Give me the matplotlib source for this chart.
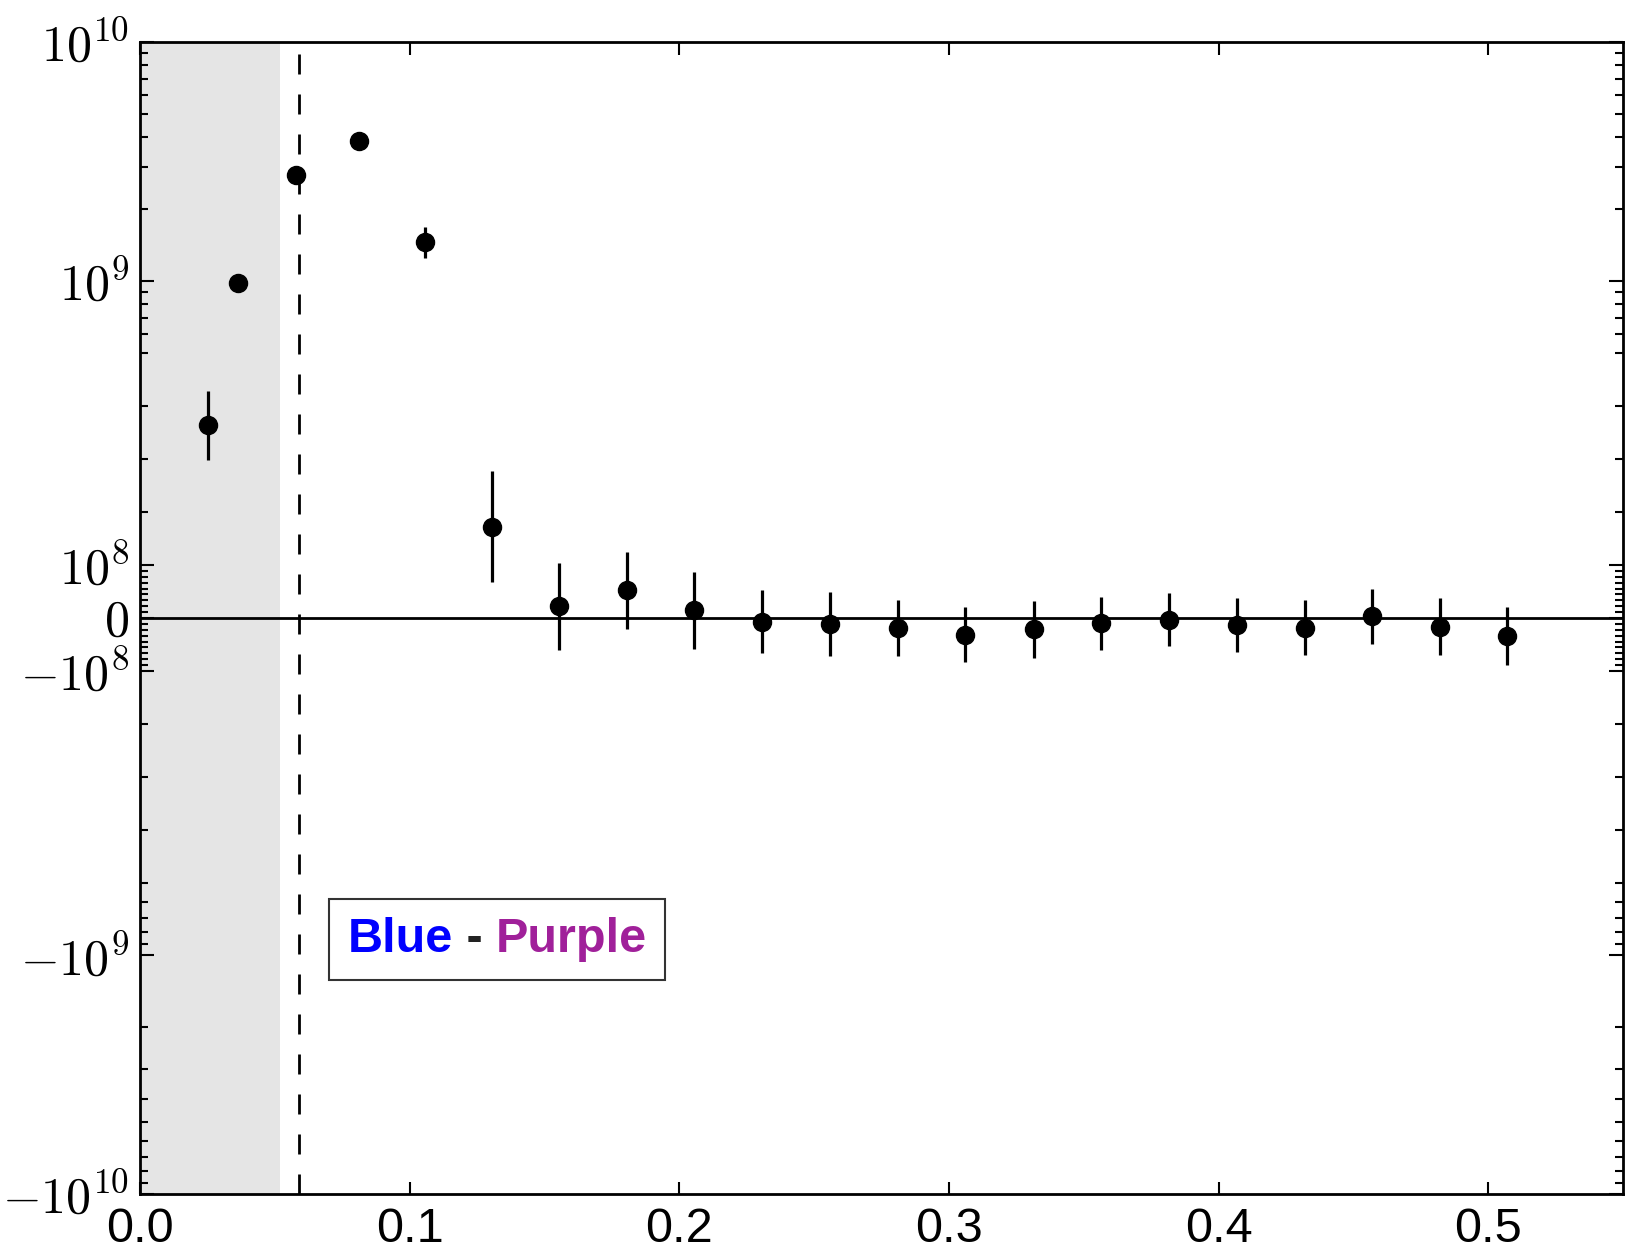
import numpy as np
import matplotlib
matplotlib.use('Agg')
import matplotlib.pyplot as plt
from matplotlib.ticker import FixedLocator, FixedFormatter
from matplotlib.offsetbox import TextArea, HPacker, AnchoredOffsetbox

plt.rcParams['font.family'] = ['Liberation Sans', 'DejaVu Sans']
plt.rcParams['mathtext.fontset'] = 'cm'

# data
x_vals = [0.0251, 0.0363, 0.0577, 0.0814, 0.1058, 0.1306, 0.1556, 0.1805, 0.2055,
          0.2307, 0.2560, 0.2811, 0.3061, 0.3315, 0.3566, 0.3818, 0.4069, 0.4320,
          0.4570, 0.4820, 0.5071]
y_vals = [3.63e8, 9.78e8, 2.76e9, 3.83e9, 1.46e9, 1.72e8, 2.2e7, 5.2e7, 1.45e7,
          -6.8e6, -1.19e7, -1.89e7, -3.13e7, -2.13e7, -1.0e7, -3.0e6, -1.3e7, -1.85e7,
          3.0e6, -1.66e7, -3.4e7]
y_err = [6.5e7, 4.0e7, 8.0e7, 1.0e8, 2.15e8, 1.05e8, 8.2e7, 7.3e7, 7.2e7,
         6.0e7, 6.0e7, 5.2e7, 5.2e7, 5.4e7, 5.0e7, 5.0e7, 5.1e7, 5.2e7,
         5.2e7, 5.4e7, 5.5e7]

shade_edge = 0.052
dash_x = 0.059

ytick_vals = [-1e10, -1e9, -1e8, 0, 1e8, 1e9, 1e10]
ytick_labels = [r'$-10^{10}$', r'$-10^{9}$', r'$-10^{8}$', r'$0$',
                r'$10^{8}$', r'$10^{9}$', r'$10^{10}$']
xtick_vals = [0.0, 0.1, 0.2, 0.3, 0.4, 0.5]
xtick_labels = ['0.0', '0.1', '0.2', '0.3', '0.4', '0.5']

fig = plt.figure(figsize=(16.29, 12.52), dpi=100)
ax = fig.add_axes([0.0859, 0.0463, 0.9104, 0.9202])

ax.axvspan(0, shade_edge, color='#e5e5e5', lw=0, zorder=0)
ax.axvline(dash_x, color='k', lw=2, linestyle=(0, (7.2, 7.2)), zorder=1)
ax.axhline(0, color='k', lw=2, zorder=1)
ax.errorbar(x_vals, y_vals, yerr=y_err, fmt='o', color='k', ms=13,
            elinewidth=2.3, capsize=0, zorder=3)

ax.set_yscale('symlog', linthresh=5e8, linscale=1)
ax.set_ylim(-1e10, 1e10)
ax.set_xlim(0, 0.55)

# minor ticks
lin_minor = [k * 1e8 / 9 for k in range(1, 9)]
log_minor = [s * 1e8 for s in range(2, 10)] + [s * 1e9 for s in range(2, 10)]
minor = lin_minor + log_minor
minor = sorted([-v for v in minor] + minor)

ax.yaxis.set_major_locator(FixedLocator(ytick_vals))
ax.yaxis.set_major_formatter(FixedFormatter(ytick_labels))
ax.yaxis.set_minor_locator(FixedLocator(minor))
ax.set_xticks(xtick_vals)
ax.set_xticklabels(xtick_labels)

ax.tick_params(axis='both', which='both', direction='in', top=True, right=True)
ax.tick_params(axis='y', which='major', length=10, width=1.5, labelsize=36, pad=8)
ax.tick_params(axis='y', which='minor', length=5.5, width=1.5)
ax.tick_params(axis='x', which='major', length=9, width=1.5, labelsize=35, pad=9)
ax.tick_params(axis='x', which='minor', bottom=False, top=False)
for sp in ax.spines.values():
    sp.set_linewidth(2)

# label box
t1 = TextArea('Blue', textprops=dict(color='#0000ff', fontsize=35, fontweight='bold'))
t2 = TextArea(' - ', textprops=dict(color='#222222', fontsize=35, fontweight='bold'))
t3 = TextArea('Purple', textprops=dict(color='#a0209a', fontsize=35, fontweight='bold'))
box = HPacker(children=[t1, t2, t3], align='baseline', pad=0, sep=0)
anc = AnchoredOffsetbox(loc='center', child=box, pad=1.3, borderpad=0, frameon=True,
                        bbox_to_anchor=(0.241, 0.221), bbox_transform=ax.transAxes)
anc.patch.set_edgecolor('#333333')
anc.patch.set_linewidth(1.5)
anc.patch.set_boxstyle('square', pad=0)
ax.add_artist(anc)

fig.savefig('out.png', dpi=100)
